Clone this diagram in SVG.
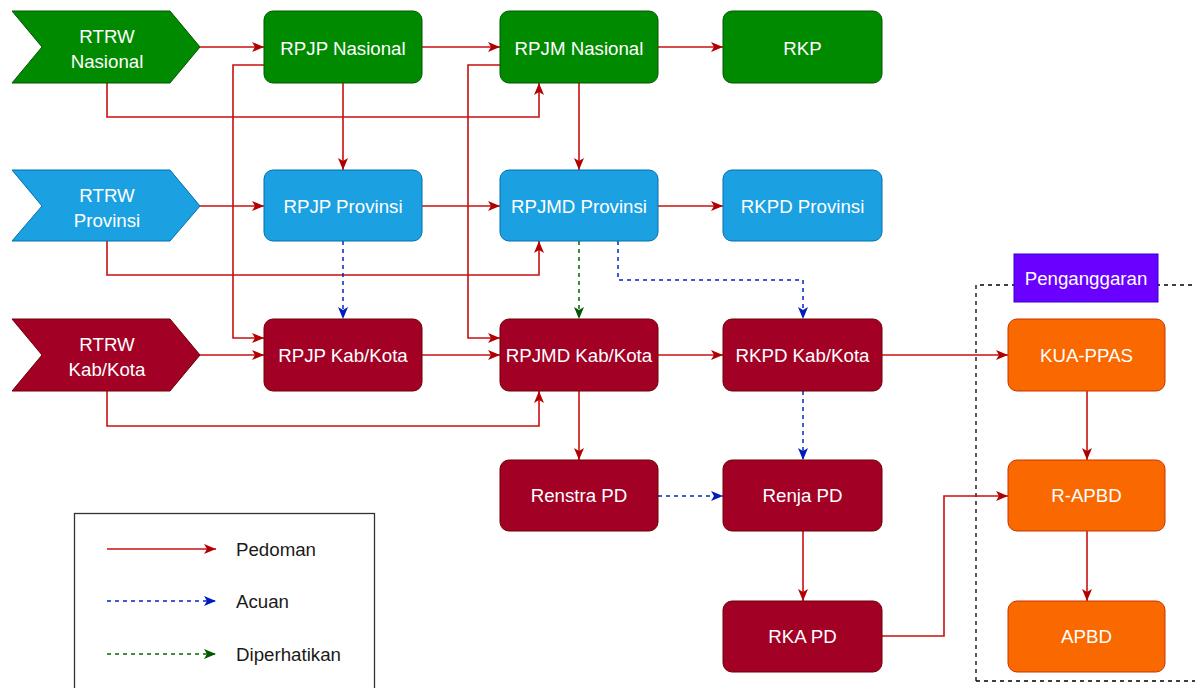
<svg xmlns="http://www.w3.org/2000/svg" width="1195" height="688" viewBox="0 0 1195 688">
<style>
text{font-family:"Liberation Sans",Arial,Helvetica,sans-serif;font-size:18.7px;text-anchor:middle;fill:#ffffff}
.lt{text-anchor:start;fill:#1a1a1a}
.g{fill:#008a00;stroke:#005700;stroke-width:1}
.b{fill:#1ba1e2;stroke:#006eaf;stroke-width:1}
.r{fill:#a20025;stroke:#6f0000;stroke-width:1}
.o{fill:#fa6800;stroke:#c73500;stroke-width:1}
.p{fill:#6a00ff;stroke:#3700cc;stroke-width:1}
.red{fill:none;stroke:#c81010;stroke-width:1.6;marker-end:url(#ar)}
.blu{fill:none;stroke:#0027cc;stroke-width:1.5;stroke-dasharray:4 4;marker-end:url(#ab)}
.grn{fill:none;stroke:#006600;stroke-width:1.5;stroke-dasharray:4 4;marker-end:url(#ag)}
</style>
<defs>
<marker id="ar" markerUnits="userSpaceOnUse" markerWidth="13" markerHeight="12" refX="12" refY="5" orient="auto"><path d="M0,0 L12,5 L0,10 L3,5 z" fill="#b20000"/></marker>
<marker id="ab" markerUnits="userSpaceOnUse" markerWidth="13" markerHeight="12" refX="12" refY="5" orient="auto"><path d="M0,0 L12,5 L0,10 L3,5 z" fill="#001dbc"/></marker>
<marker id="ag" markerUnits="userSpaceOnUse" markerWidth="13" markerHeight="12" refX="12" refY="5" orient="auto"><path d="M0,0 L12,5 L0,10 L3,5 z" fill="#005700"/></marker>
</defs>
<rect width="1195" height="688" fill="#ffffff"/>

<g id="penganggaran-frame">
<path d="M976,681 L976,285 L1200,285 M976,681 L1200,681" fill="none" stroke="#000000" stroke-width="1.3" stroke-dasharray="4 4"/>
</g>

<g id="connectors">
<path class="red" d="M200,47 L264,47"/>
<path class="red" d="M422,47 L500,47"/>
<path class="red" d="M658,47 L723,47"/>
<path class="red" d="M107,83 L107,117 L539,117 L539,83"/>
<path class="red" d="M343,83 L343,170"/>
<path class="red" d="M579,83 L579,170"/>
<path class="red" d="M264,65 L233,65 L233,338 L264,338"/>
<path class="red" d="M500,65 L468,65 L468,338 L500,338"/>
<path class="red" d="M200,206 L264,206"/>
<path class="red" d="M422,206 L500,206"/>
<path class="red" d="M658,206 L723,206"/>
<path class="red" d="M107,241 L107,275 L539,275 L539,241"/>
<path class="blu" d="M343,241 L343,319"/>
<path class="grn" d="M579,241 L579,319"/>
<path class="blu" d="M618,241 L618,280 L803,280 L803,319"/>
<path class="red" d="M200,355 L264,355"/>
<path class="red" d="M422,355 L500,355"/>
<path class="red" d="M658,355 L723,355"/>
<path class="red" d="M107,391 L107,426 L539,426 L539,391"/>
<path class="red" d="M579,391 L579,460"/>
<path class="blu" d="M803,391 L803,460"/>
<path class="blu" d="M658,496 L723,496"/>
<path class="red" d="M803,531 L803,601"/>
<path class="red" d="M882,636 L944,636 L944,496 L1008,496"/>
<path class="red" d="M882,355 L1008,355"/>
<path class="red" d="M1087,391 L1087,460"/>
<path class="red" d="M1087,531 L1087,601"/>
</g>

<g id="rtrw-nasional"><path class="g" d="M12,11 L170,11 L200,47 L170,83 L12,83 L42,47 z"/><text x="107" y="43">RTRW</text><text x="107" y="68">Nasional</text></g>
<g id="rpjp-nasional"><rect class="g" x="264" y="11" width="158" height="72" rx="9"/><text x="343" y="55">RPJP Nasional</text></g>
<g id="rpjm-nasional"><rect class="g" x="500" y="11" width="158" height="72" rx="9"/><text x="579" y="55">RPJM Nasional</text></g>
<g id="rkp"><rect class="g" x="723" y="11" width="159" height="72" rx="9"/><text x="802.5" y="55">RKP</text></g>

<g id="rtrw-provinsi"><path class="b" d="M12,170 L170,170 L200,206 L170,241 L12,241 L42,206 z"/><text x="107" y="202">RTRW</text><text x="107" y="227">Provinsi</text></g>
<g id="rpjp-provinsi"><rect class="b" x="264" y="170" width="158" height="71" rx="9"/><text x="343" y="213">RPJP Provinsi</text></g>
<g id="rpjmd-provinsi"><rect class="b" x="500" y="170" width="158" height="71" rx="9"/><text x="579" y="213">RPJMD Provinsi</text></g>
<g id="rkpd-provinsi"><rect class="b" x="723" y="170" width="159" height="71" rx="9"/><text x="802.5" y="213">RKPD Provinsi</text></g>

<g id="rtrw-kabkota"><path class="r" d="M12,319 L170,319 L200,355 L170,391 L12,391 L42,355 z"/><text x="107" y="351">RTRW</text><text x="107" y="376">Kab/Kota</text></g>
<g id="rpjp-kabkota"><rect class="r" x="264" y="319" width="158" height="72" rx="9"/><text x="343" y="362">RPJP Kab/Kota</text></g>
<g id="rpjmd-kabkota"><rect class="r" x="500" y="319" width="158" height="72" rx="9"/><text x="579" y="362">RPJMD Kab/Kota</text></g>
<g id="rkpd-kabkota"><rect class="r" x="723" y="319" width="159" height="72" rx="9"/><text x="802.5" y="362">RKPD Kab/Kota</text></g>

<g id="renstra-pd"><rect class="r" x="500" y="460" width="158" height="71" rx="9"/><text x="579" y="502">Renstra PD</text></g>
<g id="renja-pd"><rect class="r" x="723" y="460" width="159" height="71" rx="9"/><text x="802.5" y="502">Renja PD</text></g>
<g id="rka-pd"><rect class="r" x="723" y="601" width="159" height="71" rx="9"/><text x="802.5" y="643">RKA PD</text></g>

<g id="penganggaran-label"><rect class="p" x="1014" y="254" width="144" height="48"/><text x="1086" y="285">Penganggaran</text></g>
<g id="kua-ppas"><rect class="o" x="1008" y="319" width="157" height="72" rx="9"/><text x="1086.5" y="362">KUA-PPAS</text></g>
<g id="r-apbd"><rect class="o" x="1008" y="460" width="157" height="71" rx="9"/><text x="1086.5" y="502">R-APBD</text></g>
<g id="apbd"><rect class="o" x="1008" y="601" width="157" height="71" rx="9"/><text x="1086.5" y="643">APBD</text></g>

<g id="legend">
<rect x="74.5" y="513.5" width="300" height="190" fill="#ffffff" stroke="#333333" stroke-width="1.3"/>
<path class="red" d="M107,549 L216,549"/>
<path class="blu" d="M107,601 L216,601"/>
<path class="grn" d="M107,654 L216,654"/>
<text class="lt" x="236" y="556">Pedoman</text>
<text class="lt" x="236" y="608">Acuan</text>
<text class="lt" x="236" y="661">Diperhatikan</text>
</g>
</svg>
